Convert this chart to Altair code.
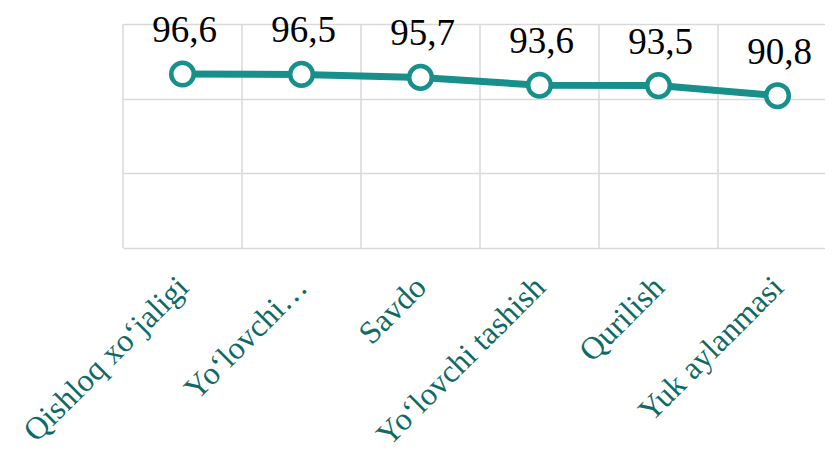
import altair as alt
import pandas as pd

categories = ["Qishloq xo‘jaligi", "Yo‘lovchi…", "Savdo", "Yo‘lovchi tashish", "Qurilish", "Yuk aylanmasi"]
values = [96.6, 96.5, 95.7, 93.6, 93.5, 90.8]
value_labels = ["96,6", "96,5", "95,7", "93,6", "93,5", "90,8"]

df = pd.DataFrame({"cat": categories, "val": values, "lbl": value_labels})

TEAL = "#178f8b"
LABEL_TEAL = "#0f6a66"
GRID = "#d9d9d9"
FONT = "Liberation Serif"

xscale = alt.Scale(domain=categories, range=[0, 714], paddingInner=0, paddingOuter=0)
yscale = alt.Scale(domain=[50, 110])

xaxis = alt.Axis(title=None, labelAngle=-45, labelFont=FONT, labelFontSize=32,
                 labelColor=LABEL_TEAL, domain=False, ticks=False, grid=False,
                 labelPadding=23, labelOffset=-10, labelLimit=400)
yaxis = alt.Axis(title=None, values=[50, 70, 90, 110], labels=False, ticks=False,
                 domain=False, grid=True, gridColor=GRID, gridWidth=1.5)

base = alt.Chart(df)

vgrid = base.mark_rule(color=GRID, strokeWidth=1.5).encode(
    x=alt.X("cat:N", scale=xscale, sort=categories, bandPosition=0, axis=xaxis),
    y=alt.value(0),
    y2=alt.value(224),
)

line = base.mark_line(color=TEAL, strokeWidth=7).encode(
    x=alt.X("cat:N", scale=xscale, sort=categories, axis=xaxis),
    y=alt.Y("val:Q", scale=yscale, axis=yaxis),
)

points = base.mark_point(shape="circle", filled=True, fill="white", stroke=TEAL,
                         strokeWidth=4.5, size=510, opacity=1).encode(
    x=alt.X("cat:N", scale=xscale, sort=categories, axis=xaxis),
    y=alt.Y("val:Q", scale=yscale, axis=yaxis),
)

texts = base.mark_text(font=FONT, fontSize=37, color="black", dy=-32, baseline="alphabetic",
                       align="center", dx=2).encode(
    x=alt.X("cat:N", scale=xscale, sort=categories, axis=xaxis),
    y=alt.Y("val:Q", scale=yscale, axis=yaxis),
    text="lbl:N",
)

chart = alt.layer(vgrid, line, points, texts).properties(
    width=702, height=224,
    autosize=alt.AutoSizeParams(type="none"),
    padding={"left": 115, "top": 16, "right": 0, "bottom": 206},
).configure_view(stroke=None)

chart.save("out.html", embed_options={"renderer": "svg", "actions": False})
